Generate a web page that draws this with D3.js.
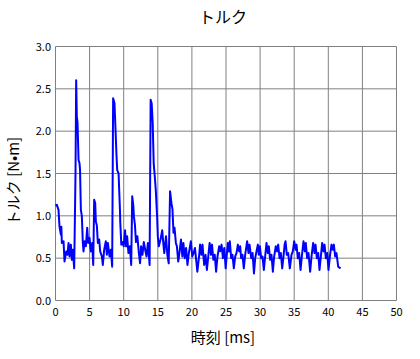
<!DOCTYPE html>
<html>
<head>
<meta charset="utf-8">
<script src="https://d3js.org/d3.v7.min.js"></script>
<style>
  body { margin: 0; background: #fff; }
  text { font-family: "Noto Sans CJK JP", "DejaVu Sans", sans-serif; fill: #000; }
</style>
</head>
<body>
<div id="viz"></div>
<script>
// time [ms]
var times = [0, 0.2, 0.44, 0.59, 0.79, 0.86, 0.93, 1.18, 1.32, 1.57, 1.76, 1.91, 2.06, 2.25, 2.4, 2.54, 2.74,
  2.84, 2.94, 3.03, 3.13, 3.23, 3.38, 3.52, 3.6, 3.72, 3.86, 4.01, 4.11, 4.26, 4.45, 4.65, 4.79, 4.99, 5.18, 5.38, 5.53,
  5.67, 5.82, 5.92, 6.06, 6.21, 6.41, 6.55, 6.8, 6.94, 7.14, 7.38, 7.53, 7.68, 7.92, 8.12, 8.31,
  8.45, 8.65, 8.8, 8.95, 9.05, 9.25, 9.45, 9.5, 9.65, 9.8, 10.0, 10.2, 10.35, 10.5, 10.7, 10.9, 11.1,
  11.25, 11.4, 11.5, 11.65, 11.8, 12.0, 12.2, 12.4, 12.55, 12.75, 12.95, 13.15, 13.35, 13.55, 13.8,
  13.95, 14.1, 14.25, 14.4, 14.55, 14.7, 14.9, 15.0, 15.15, 15.4, 15.65, 15.8, 15.95, 16.2, 16.4, 16.6,
  16.8, 17.0, 17.15, 17.3, 17.45, 17.65, 17.8, 18.0, 18.2, 18.4, 18.6, 18.75, 18.95, 19.15, 19.35, 19.55,
  19.85, 20.05, 20.25, 20.45, 20.6, 20.8, 21.05, 21.2, 21.4, 21.55, 21.8, 22.0, 22.2, 22.4, 22.6, 22.8,
  22.95, 23.15, 23.35, 23.55, 23.75, 24.0, 24.15, 24.35, 24.55, 24.75, 24.95, 25.07, 25.27, 25.42, 25.56,
  25.76, 25.95, 26.15, 26.35, 26.54, 26.74, 26.93, 27.08, 27.22, 27.42, 27.61, 27.81, 28.1, 28.3, 28.45,
  28.7, 28.9, 29.1, 29.28, 29.47, 29.67, 29.81, 29.96, 30.16, 30.35, 30.55, 30.74, 30.94, 31.13, 31.28,
  31.48, 31.67, 31.87, 32.06, 32.3, 32.5, 32.65, 32.85, 33.04, 33.24, 33.43, 33.6, 33.73, 33.92, 34.12,
  34.36, 34.6, 34.8, 35.0, 35.2, 35.34, 35.53, 35.73, 35.93, 36.12, 36.36, 36.56, 36.7, 36.9, 37.1, 37.34,
  37.54, 37.78, 37.98, 38.13, 38.32, 38.52, 38.71, 38.91, 39.1, 39.3, 39.45, 39.64, 39.84, 40.03, 40.23,
  40.47, 40.67, 40.81, 41.01, 41.2, 41.45, 41.8];

// torque [N·m]
var torque = [1.12, 1.13, 1.07, 0.87, 0.78, 0.87, 0.68, 0.70, 0.46, 0.58, 0.54, 0.68, 0.52, 0.66, 0.48, 0.60, 0.38,
  0.95, 1.54, 2.60, 2.17, 2.10, 1.66, 1.62, 1.54, 1.07, 1.00, 0.68, 0.58, 0.70, 0.64, 0.86, 0.68, 0.74, 0.58, 0.68, 0.42,
  1.19, 1.15, 0.93, 0.89, 0.68, 0.72, 0.58, 0.52, 0.42, 0.60, 0.70, 0.54, 0.68, 0.52, 0.60, 0.40,
  2.39, 2.33, 2.02, 1.70, 1.54, 1.50, 1.07, 0.92, 0.66, 0.69, 0.64, 0.83, 0.64, 0.76, 0.56, 0.64, 0.42,
  1.23, 1.13, 0.99, 0.89, 0.69, 0.76, 0.58, 0.44, 0.64, 0.54, 0.69, 0.60, 0.52, 0.68, 0.42,
  2.37, 2.33, 2.10, 1.62, 1.47, 1.31, 0.99, 0.76, 0.64, 0.72, 0.83, 0.68, 0.56, 0.76, 0.54, 0.44,
  1.29, 1.15, 1.08, 0.80, 0.86, 0.68, 0.64, 0.46, 0.58, 0.72, 0.52, 0.68, 0.50, 0.62, 0.42, 0.56,
  0.70, 0.52, 0.56, 0.62, 0.50, 0.34, 0.52, 0.66, 0.54, 0.66, 0.42, 0.54, 0.36, 0.52, 0.68, 0.54,
  0.66, 0.48, 0.54, 0.34, 0.52, 0.64, 0.58, 0.66, 0.50, 0.62, 0.38, 0.50, 0.68, 0.58, 0.70,
  0.50, 0.54, 0.38, 0.52, 0.56, 0.66, 0.58, 0.64, 0.50, 0.54, 0.38, 0.54, 0.70, 0.56, 0.66,
  0.50, 0.56, 0.32, 0.50, 0.58, 0.66, 0.54, 0.64, 0.50, 0.52, 0.36, 0.52, 0.68, 0.56, 0.64,
  0.48, 0.54, 0.34, 0.52, 0.64, 0.58, 0.66, 0.50, 0.56, 0.38, 0.52, 0.66, 0.70, 0.54, 0.56,
  0.38, 0.54, 0.58, 0.70, 0.60, 0.66, 0.50, 0.56, 0.36, 0.52, 0.70, 0.58, 0.68, 0.50, 0.56, 0.34,
  0.52, 0.68, 0.56, 0.66, 0.50, 0.56, 0.36, 0.52, 0.68, 0.58, 0.66, 0.50, 0.56, 0.36, 0.52,
  0.66, 0.60, 0.66, 0.52, 0.56, 0.40, 0.38];

var xTicks = [0, 5, 10, 15, 20, 25, 30, 35, 40, 45, 50];
var yTicks = [0, 0.5, 1.0, 1.5, 2.0, 2.5, 3.0];

var W = 420, H = 359;
var svg = d3.select("#viz").append("svg")
    .attr("width", W)
    .attr("height", H);

var x = d3.scaleLinear().domain([0, 50]).range([55.5, 396.5]);
var y = d3.scaleLinear().domain([0, 3]).range([300.5, 46.5]);

// grid
svg.append("g")
    .selectAll("line")
    .data(xTicks)
    .enter().append("line")
    .attr("x1", d => x(d)).attr("x2", d => x(d))
    .attr("y1", y(0)).attr("y2", y(3))
    .attr("stroke", "#808080").attr("stroke-width", 1);
svg.append("g")
    .selectAll("line")
    .data(yTicks)
    .enter().append("line")
    .attr("x1", x(0)).attr("x2", x(50))
    .attr("y1", d => y(d)).attr("y2", d => y(d))
    .attr("stroke", "#808080").attr("stroke-width", 1);

// tick labels
svg.append("g")
    .selectAll("text")
    .data(xTicks)
    .enter().append("text")
    .attr("x", d => x(d))
    .attr("y", 316)
    .attr("text-anchor", "middle")
    .attr("font-size", 11)
    .text(d => d);
svg.append("g")
    .selectAll("text")
    .data(yTicks)
    .enter().append("text")
    .attr("x", 51)
    .attr("y", d => y(d) + 4)
    .attr("text-anchor", "end")
    .attr("font-size", 11)
    .text(d => d.toFixed(1));

// line
var line = d3.line()
    .x((d, i) => x(times[i]))
    .y(d => y(d));
svg.append("path")
    .datum(torque)
    .attr("d", line)
    .attr("fill", "none")
    .attr("stroke", "#0000ff")
    .attr("stroke-width", 2)
    .attr("stroke-linejoin", "round");

// titles
svg.append("text")
    .attr("x", 223).attr("y", 23)
    .attr("text-anchor", "middle")
    .attr("font-size", 16)
    .text("トルク");
svg.append("text")
    .attr("x", 223).attr("y", 343)
    .attr("text-anchor", "middle")
    .attr("font-size", 15)
    .text("時刻 [ms]");
svg.append("text")
    .attr("transform", "translate(19,181) rotate(-90)")
    .attr("text-anchor", "middle")
    .attr("font-size", 15)
    .text("トルク [N•m]");
</script>
</body>
</html>
